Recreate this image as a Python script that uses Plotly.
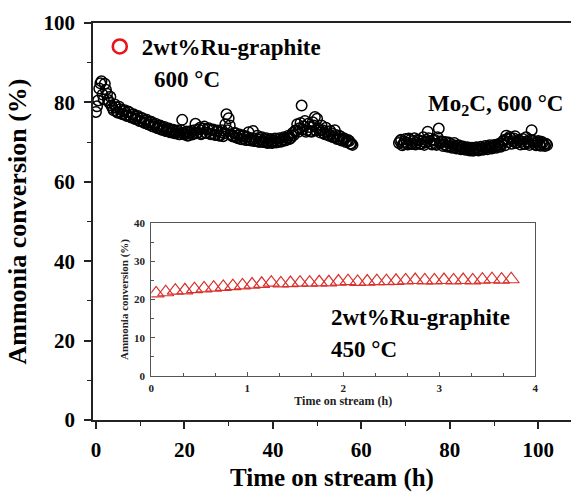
import numpy as np
import plotly.graph_objects as go

# ---------------- data ----------------
# Main plot: 2wt%Ru-graphite at 600 °C (first run) and Mo2C at 600 °C (second run)
# readings every 0.5 h (set a) and the readings in between (set b)
seg1_start, seg1_step = 0.0, 0.5
seg1_conv = [
    77.6, 80.5, 84.8, 82.0, 84.7, 82.2, 80.0, 79.2, 78.0, 78.8,
    77.4, 78.3, 77.0, 78.0, 76.6, 77.5, 76.2, 77.0, 75.8, 76.6,
    75.3, 76.0, 74.8, 75.6, 74.4, 75.1, 73.9, 74.6, 73.5, 74.2,
    73.1, 73.8, 72.8, 73.4, 72.5, 73.1, 72.2, 72.9, 72.0, 75.6,
    71.9, 72.7, 71.8, 72.8, 72.1, 74.6, 72.4, 73.6, 72.2, 73.9,
    72.3, 73.5, 72.0, 73.2, 71.8, 72.9, 71.6, 73.0, 72.2, 77.0,
    76.0, 72.0, 71.4, 72.3, 71.0, 71.9, 70.7, 71.6, 70.5, 72.5,
    70.4, 72.8, 70.3, 71.6, 70.1, 71.2, 70.0, 71.0, 69.9, 70.8,
    69.9, 70.9, 70.0, 71.0, 70.2, 71.2, 70.5, 71.6, 71.0, 72.3,
    72.8, 74.5, 73.5, 79.2, 74.0, 72.6, 74.6, 72.8, 75.0, 76.3,
    75.9, 73.0, 74.2, 72.3, 73.6, 71.8, 72.8, 71.3, 73.0, 70.8,
    71.6, 70.4, 71.0, 70.0, 70.5, 69.6, 69.3,
]
seg1b_start, seg1b_step = 0.25, 0.5
seg1b_conv = [
    79.0, 83.5, 85.3, 80.8, 83.2, 80.6, 81.4, 78.6, 79.5, 77.6,
    78.9, 77.2, 77.8, 76.8, 77.7, 76.4, 76.9, 75.9, 76.4, 75.4,
    76.1, 75.0, 75.4, 74.5, 75.0, 74.0, 74.4, 73.6, 74.1, 73.2,
    73.6, 72.8, 73.3, 72.5, 73.0, 72.2, 72.7, 72.0, 73.0, 72.3,
    72.2, 71.6, 72.4, 71.9, 73.0, 72.2, 73.2, 72.0, 73.4, 72.4,
    73.2, 72.1, 73.0, 71.9, 72.6, 71.7, 72.5, 71.5, 74.5, 73.0,
    74.2, 71.6, 72.2, 71.2, 71.8, 70.8, 71.5, 70.6, 71.3, 70.5,
    71.0, 70.3, 70.9, 70.1, 70.7, 70.0, 70.5, 69.8, 70.4, 69.8,
    70.4, 69.9, 70.5, 70.1, 70.7, 70.4, 71.0, 70.8, 71.6, 71.8,
    73.0, 72.6, 74.8, 73.2, 75.3, 73.0, 73.8, 72.6, 74.2, 72.9,
    73.4, 72.4, 73.0, 72.0, 72.6, 71.6, 72.2, 71.2, 71.8, 70.9,
    71.4, 70.6, 70.8, 70.2, 70.3, 69.6,
]
seg2_start, seg2_step = 68.5, 0.5
seg2_conv = [
    69.8, 70.6, 69.5, 70.8, 69.4, 70.5, 69.6, 71.0, 69.8, 70.4,
    69.5, 71.2, 69.9, 72.6, 70.2, 69.4, 70.6, 69.3, 73.4, 70.2,
    69.0, 70.0, 68.8, 69.6, 68.6, 69.8, 68.4, 69.2, 68.2, 68.9,
    68.1, 68.7, 67.9, 68.6, 68.0, 68.7, 67.9, 68.8, 68.1, 69.0,
    68.2, 69.2, 68.4, 69.3, 68.6, 69.5, 68.8, 70.2, 69.2, 70.8,
    71.3, 69.6, 70.9, 69.8, 70.5, 69.4, 70.8, 69.5, 70.2, 69.3,
    73.0, 70.0, 69.2, 70.3, 69.1, 69.8, 69.0, 69.25,
]
seg2b_start, seg2b_step = 68.75, 0.5
seg2b_conv = [
    70.3, 69.2, 70.1, 69.8, 70.9, 69.5, 70.3, 69.4, 70.6, 69.6,
    70.2, 69.3, 70.5, 71.0, 69.6, 70.4, 69.5, 71.2, 69.8, 70.1,
    69.4, 69.0, 69.9, 68.9, 69.3, 68.7, 69.0, 68.5, 68.8, 68.3,
    68.5, 68.1, 68.4, 67.8, 68.5, 68.1, 68.4, 68.3, 68.6, 68.5,
    68.8, 68.6, 69.0, 68.9, 69.2, 69.0, 69.7, 70.5, 71.6, 70.0,
    71.0, 70.2, 71.5, 70.0, 70.4, 70.1, 69.6, 71.2, 69.8, 70.6,
    70.4, 69.5, 70.0, 69.4, 70.1, 69.3, 69.6,
]
seg1_time = seg1_start + seg1_step * np.arange(len(seg1_conv))
seg1b_time = seg1b_start + seg1b_step * np.arange(len(seg1b_conv))
seg2_time = seg2_start + seg2_step * np.arange(len(seg2_conv))
seg2b_time = seg2b_start + seg2b_step * np.arange(len(seg2b_conv))

# Inset: 2wt%Ru-graphite at 450 °C
inset_time = [0.05, 0.15, 0.25, 0.35, 0.45, 0.55, 0.65, 0.75, 0.85, 0.95,
              1.05, 1.15, 1.25, 1.35, 1.45, 1.55, 1.65, 1.75, 1.85, 1.95,
              2.05, 2.15, 2.25, 2.35, 2.45, 2.55, 2.65, 2.75, 2.85, 2.95,
              3.05, 3.15, 3.25, 3.35, 3.45, 3.55, 3.65, 3.75]
inset_conv = [21.6, 21.9, 22.3, 22.4, 22.7, 22.9, 23.1, 23.3, 23.5, 23.7,
              23.9, 24.1, 24.4, 24.2, 24.3, 24.4, 24.4, 24.5, 24.5, 24.7,
              24.8, 24.6, 24.7, 24.8, 24.8, 24.9, 25.0, 25.1, 25.0, 25.0,
              25.1, 25.0, 25.1, 25.0, 25.2, 25.3, 25.2, 25.3]

main_xticks = [0, 20, 40, 60, 80, 100]
main_yticks = [0, 20, 40, 60, 80, 100]
inset_xticks = [0, 1, 2, 3, 4]
inset_yticks = [0, 10, 20, 30, 40]

# ---------------- figure ----------------
SERIF = "Liberation Serif"
fig = go.Figure()

circle_style = dict(symbol="circle-open", size=10.5, color="black", line=dict(width=1.5, color="black"))
for t, c in [(seg1_time, seg1_conv), (seg1b_time, seg1b_conv),
             (seg2_time, seg2_conv), (seg2b_time, seg2b_conv)]:
    fig.add_trace(go.Scatter(x=t, y=c, mode="markers", marker=circle_style,
                             showlegend=False, xaxis="x", yaxis="y"))
# legend entry
fig.add_trace(go.Scatter(x=[None], y=[None], mode="markers", name="2wt%Ru-graphite",
                         marker=dict(symbol="circle-open", size=14, color="#e8141a",
                                     line=dict(width=2.6, color="#e8141a")),
                         xaxis="x", yaxis="y"))
# inset
fig.add_trace(go.Scatter(x=inset_time, y=inset_conv, mode="markers", showlegend=False,
                         marker=dict(symbol="triangle-up-open", size=14, color="#d8302c",
                                     line=dict(width=1.2, color="#d8302c")),
                         xaxis="x2", yaxis="y2"))

tickfont_main = dict(family=SERIF, size=21, color="black", weight="bold")
tickfont_inset = dict(family=SERIF, size=11, color="#222", weight="bold")

fig.update_layout(
    width=574, height=492,
    margin=dict(l=93, r=0, t=23, b=71),
    paper_bgcolor="white", plot_bgcolor="white",
    font=dict(family=SERIF, color="black"),
    xaxis=dict(range=[-0.67, 107.4], tickvals=main_xticks, showgrid=False, zeroline=False,
               showline=True, linecolor="#222", linewidth=1.6, mirror=True,
               ticks="outside", ticklen=7, tickwidth=1.6, tickcolor="#222",
               minor=dict(dtick=10, ticks="outside", ticklen=4, tickwidth=1.3, tickcolor="#222"),
               tickfont=tickfont_main, ticklabelstandoff=3,
               title=dict(text="Time on stream (h)", font=dict(family=SERIF, size=25, weight="bold"),
                          standoff=12)),
    yaxis=dict(range=[0, 100], tickvals=main_yticks, showgrid=False, zeroline=False,
               showline=True, linecolor="#222", linewidth=1.6, mirror=False,
               ticks="outside", ticklen=7, tickwidth=1.6, tickcolor="#222",
               minor=dict(dtick=10, ticks="outside", ticklen=4, tickwidth=1.3, tickcolor="#222"),
               tickfont=tickfont_main, ticklabelstandoff=5,
               title=dict(text="Ammonia conversion (%)", font=dict(family=SERIF, size=26, weight="bold"),
                          standoff=9)),
    xaxis2=dict(domain=[0.122, 0.925], anchor="y2", range=[0, 4], tickvals=inset_xticks,
                showgrid=False, zeroline=False, showline=True, linecolor="#555", linewidth=1.2,
                mirror=True, ticks="inside", ticklen=4, tickwidth=1.1, tickcolor="#555",
                minor=dict(dtick=1/3, ticks="inside", ticklen=2.5, tickwidth=1, tickcolor="#555"),
                tickfont=tickfont_inset, ticklabelstandoff=2,
                title=dict(text="Time on stream (h)", font=dict(family=SERIF, size=12, weight="bold", color="#222"),
                           standoff=2)),
    yaxis2=dict(domain=[0.111, 0.496], anchor="x2", range=[0, 40], tickvals=inset_yticks,
                showgrid=False, zeroline=False, showline=True, linecolor="#555", linewidth=1.2,
                mirror=True, ticks="inside", ticklen=4, tickwidth=1.1, tickcolor="#555",
                minor=dict(dtick=5, ticks="inside", ticklen=2.5, tickwidth=1, tickcolor="#555"),
                tickfont=tickfont_inset, ticklabelstandoff=3,
                title=dict(text="Ammonia conversion (%)", font=dict(family=SERIF, size=11, weight="bold", color="#222"),
                           standoff=3)),
    legend=dict(x=0.01, y=0.995, xanchor="left", yanchor="top", bgcolor="rgba(0,0,0,0)",
                font=dict(family=SERIF, size=23, weight="bold", color="black"),
                itemwidth=34),
)

ann_font = dict(family=SERIF, size=23, color="black", weight="bold")
fig.add_annotation(text="600 °C", xref="paper", yref="paper", x=0.1227, y=0.857,
                   xanchor="left", yanchor="middle", showarrow=False, font=ann_font)
fig.add_annotation(text="Mo<sub>2</sub>C, 600 °C", xref="paper", yref="paper", x=0.6965, y=0.794,
                   xanchor="left", yanchor="middle", showarrow=False, font=ann_font)
fig.add_annotation(text="2wt%Ru-graphite", xref="paper", yref="paper", x=0.4927, y=0.2588,
                   xanchor="left", yanchor="middle", showarrow=False, font=ann_font)
fig.add_annotation(text="450 °C", xref="paper", yref="paper", x=0.4927, y=0.1784,
                   xanchor="left", yanchor="middle", showarrow=False, font=ann_font)

fig.write_html("out.html")
